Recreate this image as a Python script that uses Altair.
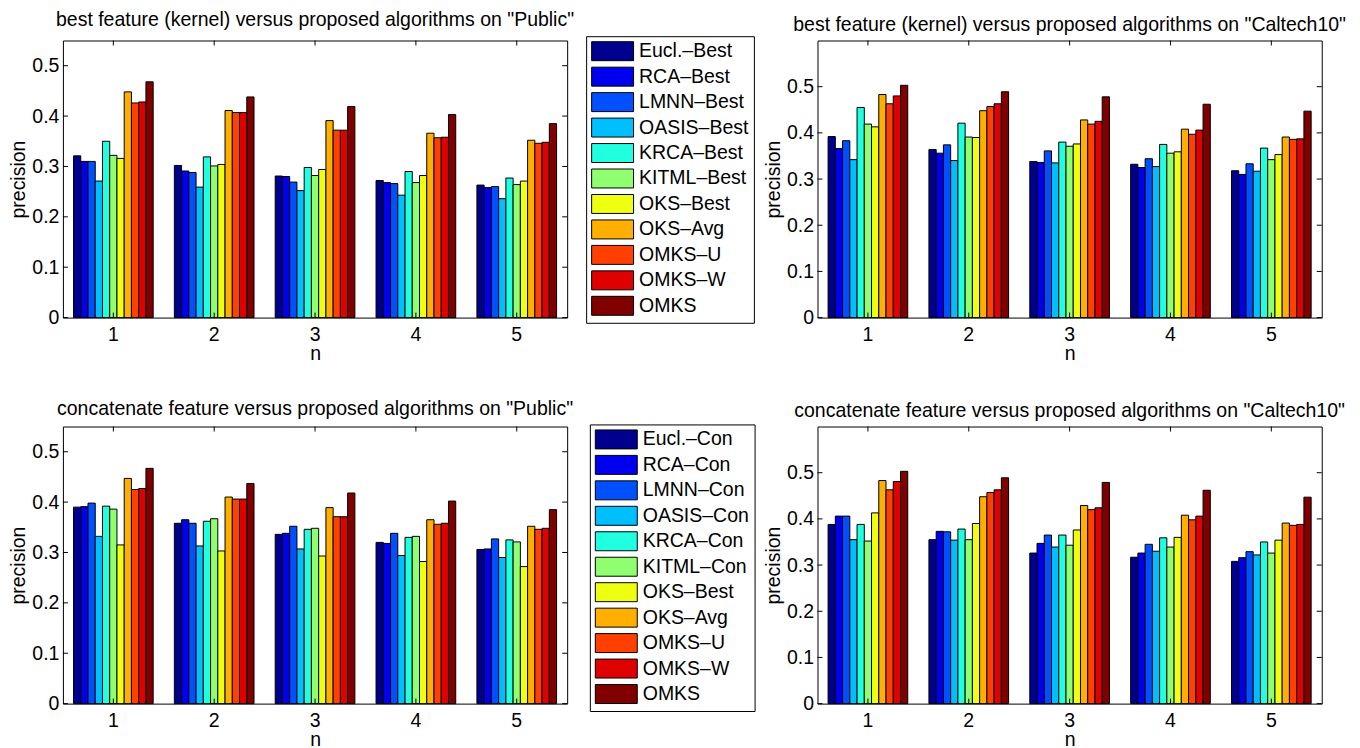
import altair as alt
import pandas as pd

FONT = "Liberation Sans"
FS = 19.5

ns = ["1", "2", "3", "4", "5"]
methods_best = ["Eucl.–Best", "RCA–Best", "LMNN–Best", "OASIS–Best", "KRCA–Best",
                "KITML–Best", "OKS–Best", "OKS–Avg", "OMKS–U", "OMKS–W", "OMKS"]
methods_con = ["Eucl.–Con", "RCA–Con", "LMNN–Con", "OASIS–Con", "KRCA–Con",
               "KITML–Con", "OKS–Best", "OKS–Avg", "OMKS–U", "OMKS–W", "OMKS"]
colors = ["#00008F", "#0000EF", "#0050FF", "#00BFFF", "#20FFDF", "#8FFF70",
          "#EFFF10", "#FFAF00", "#FF4000", "#DF0000", "#800000"]

yticks = [0, 0.1, 0.2, 0.3, 0.4, 0.5]

# rows: n = 1..5 ; columns: methods in legend order
public_best = [
    [0.321, 0.310, 0.310, 0.271, 0.350, 0.322, 0.316, 0.448, 0.426, 0.428, 0.468],
    [0.302, 0.291, 0.288, 0.259, 0.319, 0.301, 0.304, 0.411, 0.407, 0.407, 0.438],
    [0.281, 0.280, 0.269, 0.252, 0.298, 0.282, 0.294, 0.391, 0.372, 0.372, 0.419],
    [0.272, 0.268, 0.266, 0.243, 0.290, 0.268, 0.282, 0.366, 0.357, 0.358, 0.403],
    [0.263, 0.258, 0.260, 0.236, 0.277, 0.264, 0.271, 0.352, 0.346, 0.348, 0.385],
]
caltech_best = [
    [0.392, 0.366, 0.383, 0.342, 0.455, 0.419, 0.413, 0.483, 0.463, 0.480, 0.503],
    [0.364, 0.356, 0.374, 0.340, 0.421, 0.391, 0.390, 0.448, 0.457, 0.463, 0.489],
    [0.338, 0.336, 0.361, 0.335, 0.380, 0.371, 0.376, 0.428, 0.419, 0.425, 0.478],
    [0.332, 0.325, 0.344, 0.327, 0.375, 0.356, 0.359, 0.408, 0.397, 0.406, 0.462],
    [0.318, 0.310, 0.333, 0.317, 0.367, 0.342, 0.353, 0.391, 0.386, 0.387, 0.447],
]
public_con = [
    [0.390, 0.391, 0.398, 0.332, 0.392, 0.386, 0.315, 0.447, 0.425, 0.427, 0.467],
    [0.358, 0.365, 0.358, 0.313, 0.362, 0.367, 0.303, 0.410, 0.406, 0.406, 0.437],
    [0.336, 0.338, 0.352, 0.307, 0.346, 0.348, 0.293, 0.389, 0.371, 0.371, 0.418],
    [0.320, 0.318, 0.338, 0.294, 0.330, 0.332, 0.282, 0.365, 0.356, 0.358, 0.402],
    [0.306, 0.307, 0.327, 0.290, 0.325, 0.321, 0.272, 0.352, 0.346, 0.348, 0.385],
]
caltech_con = [
    [0.388, 0.406, 0.406, 0.355, 0.388, 0.352, 0.413, 0.483, 0.463, 0.481, 0.503],
    [0.355, 0.373, 0.372, 0.354, 0.378, 0.355, 0.390, 0.448, 0.457, 0.463, 0.489],
    [0.326, 0.347, 0.365, 0.339, 0.365, 0.343, 0.376, 0.429, 0.420, 0.424, 0.479],
    [0.317, 0.326, 0.345, 0.330, 0.359, 0.339, 0.360, 0.408, 0.398, 0.406, 0.462],
    [0.308, 0.316, 0.329, 0.322, 0.350, 0.326, 0.354, 0.391, 0.386, 0.388, 0.447],
]

W, H = 505, 277.5
TICK = 5


def make_legend(lx, ly):
    return alt.Legend(
        title=None, orient="none", legendX=lx, legendY=ly, direction="vertical",
        symbolType="M-1,-1H3.42V1H-1Z", symbolSize=361,
        symbolStrokeColor="black", symbolStrokeWidth=1, symbolOpacity=1,
        labelFont=FONT, labelFontSize=FS, labelColor="black", labelOffset=28,
        labelLimit=400, rowPadding=1.5, padding=5,
        strokeColor="black", fillColor="white",
    )


def panel(values, methods, ymax, title, legend):
    rows = [{"n": ns[i], "method": m, "precision": v}
            for i, grp in enumerate(values) for m, v in zip(methods, grp)]
    df = pd.DataFrame(rows)
    xscale = alt.Scale(type="band", paddingInner=0.21, paddingOuter=0.105)
    yscale = alt.Scale(domain=[0, ymax], nice=False, zero=True)
    bars = alt.Chart(df).mark_bar(stroke="black", strokeWidth=1, opacity=1).encode(
        x=alt.X("n:N", sort=ns, scale=xscale,
                axis=alt.Axis(title="n", labelAngle=0, labelPadding=8, titlePadding=0)),
        xOffset=alt.XOffset("method:N", sort=methods,
                            scale=alt.Scale(domain=methods, paddingInner=0, paddingOuter=0)),
        y=alt.Y("precision:Q", scale=yscale,
                axis=alt.Axis(title="precision", values=yticks, format="~g",
                              labelPadding=4, titlePadding=3)),
        color=alt.Color("method:N", sort=methods,
                        scale=alt.Scale(domain=methods, range=colors), legend=legend),
    )
    xt = pd.DataFrame({"n": ns})
    yt = pd.DataFrame({"precision": yticks})
    xenc = alt.X("n:N", sort=ns, scale=xscale)
    yenc = alt.Y("precision:Q", scale=yscale)
    top_t = alt.Chart(xt).mark_rule(color="black", strokeWidth=1).encode(
        x=xenc, y=alt.value(0), y2=alt.value(TICK))
    bot_t = alt.Chart(xt).mark_rule(color="black", strokeWidth=1).encode(
        x=xenc, y=alt.value(H), y2=alt.value(H - TICK))
    left_t = alt.Chart(yt).mark_rule(color="black", strokeWidth=1).encode(
        y=yenc, x=alt.value(0), x2=alt.value(TICK))
    right_t = alt.Chart(yt).mark_rule(color="black", strokeWidth=1).encode(
        y=yenc, x=alt.value(W), x2=alt.value(W - TICK))
    return alt.layer(bars, top_t, bot_t, left_t, right_t).properties(
        width=W, height=H,
        title=alt.TitleParams(title, font=FONT, fontSize=FS, fontWeight="normal",
                              color="black", anchor="middle", baseline="alphabetic",
                              offset=-10.2),
    )


p1 = panel(public_best, methods_best, 0.55,
           'best feature (kernel) versus proposed algorithms on "Public"',
           make_legend(524, -4.3))
p2 = panel(caltech_best, methods_best, 0.6,
           'best feature (kernel) versus proposed algorithms on "Caltech10"', None)
p3 = panel(public_con, methods_con, 0.55,
           'concatenate feature versus proposed algorithms on "Public"',
           make_legend(527.7, -2.1))
p4 = panel(caltech_con, methods_con, 0.6,
           'concatenate feature versus proposed algorithms on "Caltech10"', None)

res = dict(color="independent", xOffset="independent", x="independent", y="independent")

chart = alt.ConcatChart(
    concat=[p1, p2, p3, p4], columns=2,
    spacing={"row": 108.6, "column": 250.7}, bounds="flush",
).resolve_scale(
    **res
).properties(
    padding={"left": 0, "top": 1, "right": 5, "bottom": 0}
).configure_view(
    stroke="black", strokeWidth=1
).configure_axis(
    domain=False, ticks=False, tickSize=0, grid=False,
    labelFont=FONT, labelFontSize=FS, labelColor="black",
    titleFont=FONT, titleFontSize=FS, titleFontWeight="normal", titleColor="black",
)

chart.save("out.html", embed_options={"renderer": "svg", "actions": False})
